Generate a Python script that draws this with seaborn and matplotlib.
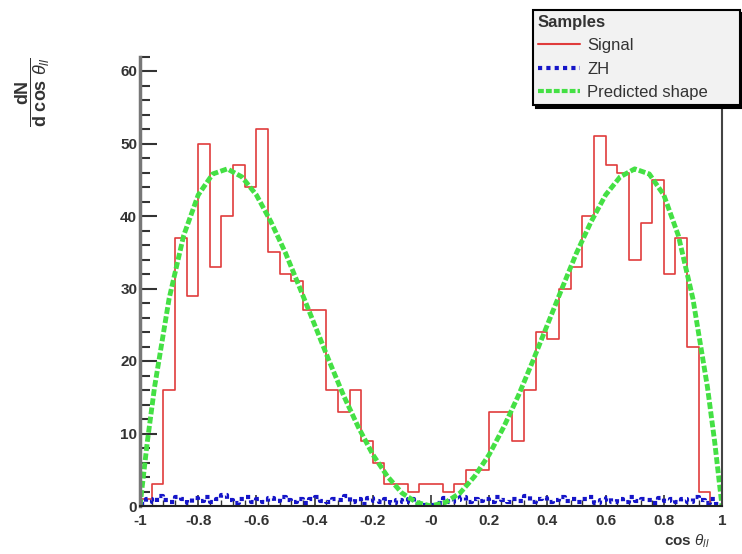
import numpy as np
import pandas as pd
import matplotlib
matplotlib.use("Agg")
import matplotlib.pyplot as plt
import seaborn as sns
from matplotlib.lines import Line2D
from matplotlib.ticker import MultipleLocator, FixedLocator, FixedFormatter

# Signal histogram: 50 bins over [-1, 1]
signal_nbins = 50
signal_counts = [1, 3, 16, 37, 29, 50, 33, 40, 47, 44,
                 52, 35, 32, 31, 27, 27, 16, 13, 16, 9,
                 6, 3, 3, 2, 3, 3, 2, 3, 5, 5,
                 13, 13, 9, 16, 24, 23, 30, 33, 40, 51,
                 47, 46, 34, 39, 45, 32, 37, 22, 2, 0]

# ZH background: 100 bins over [-1, 1]
zh_nbins = 100
zh_counts = [0.3, 1.0, 0.6, 1.4, 0.8, 0.5, 1.2, 0.9, 0.4, 1.1,
             0.7, 1.3, 0.6, 0.9, 1.5, 0.8, 0.4, 1.0, 1.2, 0.6,
             0.9, 0.5, 1.1, 0.7, 1.3, 0.8, 0.6, 1.0, 0.4, 0.9,
             1.2, 0.7, 0.5, 1.0, 0.8, 1.4, 0.6, 0.9, 0.3, 1.1,
             0.7, 0.5, 0.9, 0.4, 0.8, 0.6, 1.0, 0.3, 0.2, 0.1,
             0.2, 0.4, 1.1, 0.6, 0.8, 1.3, 0.5, 0.9, 0.7, 1.0,
             0.6, 1.2, 0.8, 0.5, 1.0, 0.7, 1.4, 0.6, 0.9, 1.1,
             0.5, 0.8, 1.2, 0.7, 1.0, 0.6, 0.9, 1.3, 0.4, 0.8,
             1.1, 0.6, 0.9, 0.5, 1.2, 0.7, 1.0, 0.8, 0.4, 1.1,
             0.7, 0.9, 0.5, 1.0, 0.6, 1.3, 0.8, 0.4, 1.0, 0.3]

# Predicted shape
pred_x = [-1.0, -0.975, -0.95, -0.9, -0.85, -0.8, -0.75, -0.7, -0.65, -0.6, -0.55,
          -0.5, -0.45, -0.4, -0.35, -0.3, -0.25, -0.2, -0.15, -0.1, -0.05,
          0.0, 0.05, 0.1, 0.15, 0.2, 0.25, 0.3, 0.35, 0.4, 0.45,
          0.5, 0.55, 0.6, 0.65, 0.7, 0.75, 0.8, 0.85, 0.9, 0.95, 0.975, 1.0]
pred_y = [0.0, 8.8, 16.4, 28.6, 37.3, 42.9, 45.8, 46.5, 45.4, 42.9, 39.2,
          34.9, 30.0, 25.0, 20.0, 15.2, 10.9, 7.1, 4.1, 1.8, 0.5,
          0.0, 0.5, 1.8, 4.1, 7.1, 10.9, 15.2, 20.0, 25.0, 30.0,
          34.9, 39.2, 42.9, 45.4, 46.5, 45.8, 42.9, 37.3, 28.6, 16.4, 8.8, 0.0]

x_ticks = [-1, -0.8, -0.6, -0.4, -0.2, 0, 0.2, 0.4, 0.6, 0.8, 1]
x_tick_labels = ['-1', '-0.8', '-0.6', '-0.4', '-0.2', '-0', '0.2', '0.4', '0.6', '0.8', '1']
y_ticks = [0, 10, 20, 30, 40, 50, 60]

sns.set_style("ticks")
plt.rcParams['font.family'] = ['Liberation Sans', 'DejaVu Sans']
plt.rcParams['mathtext.fontset'] = 'custom'
plt.rcParams['mathtext.rm'] = 'Liberation Sans'
plt.rcParams['mathtext.it'] = 'Liberation Sans:italic'
plt.rcParams['mathtext.bf'] = 'Liberation Sans:bold'

red = '#e03c3c'
blue = '#1515c8'
green = '#44e044'

fig = plt.figure(figsize=(7.42, 5.54), dpi=100)
ax = fig.add_axes([140 / 742, 1 - 506 / 554, (722 - 140) / 742, 449.5 / 554])

sig_df = pd.DataFrame({
    'x': -1 + (np.arange(signal_nbins) + 0.5) * 2 / signal_nbins,
    'w': signal_counts,
})
zh_df = pd.DataFrame({
    'x': -1 + (np.arange(zh_nbins) + 0.5) * 2 / zh_nbins,
    'w': zh_counts,
})

sns.histplot(data=sig_df, x='x', weights='w', binwidth=2 / signal_nbins, binrange=(-1, 1),
             element='step', fill=False, color=red, linewidth=1.2, ax=ax)
sns.histplot(data=zh_df, x='x', weights='w', binwidth=2 / zh_nbins, binrange=(-1, 1),
             element='step', fill=False, color=blue, linewidth=3, linestyle=(0, (1, 1)), ax=ax)
sns.lineplot(x=pred_x, y=pred_y, color=green, linewidth=3.5, linestyle=(0, (1.4, 0.5)),
             ax=ax, sort=False)

ax.set_xlim(-1, 1)
ax.set_ylim(0, 62)
ax.set_xlabel('')
ax.set_ylabel('')

ax.xaxis.set_major_locator(FixedLocator(x_ticks))
ax.xaxis.set_major_formatter(FixedFormatter(x_tick_labels))
ax.xaxis.set_minor_locator(MultipleLocator(0.04))
ax.yaxis.set_major_locator(FixedLocator(y_ticks))
ax.yaxis.set_minor_locator(MultipleLocator(2))

ax.tick_params(axis='both', which='both', direction='in', colors='#333333',
               labelsize=11)
ax.tick_params(axis='y', which='major', length=12, width=1.5, pad=2)
ax.tick_params(axis='y', which='minor', length=7, width=1.5)
ax.tick_params(axis='x', which='major', length=8, width=1.2, pad=6)
ax.tick_params(axis='x', which='minor', length=4, width=1)
for lab in ax.get_xticklabels() + ax.get_yticklabels():
    lab.set_fontweight('bold')

ax.spines['top'].set_visible(False)
ax.spines['left'].set_color('#777777')
ax.spines['left'].set_linewidth(2.5)
ax.spines['bottom'].set_color('#222222')
ax.spines['bottom'].set_linewidth(1.5)
ax.spines['right'].set_color('#444444')
ax.spines['right'].set_linewidth(1.5)

# axis titles
fig.text(33 / 742, 1 - 92 / 554, r'$\dfrac{\mathbf{dN}}{\mathbf{d\ cos\ }\theta_{ll}}$',
         rotation=90, ha='center', va='center', fontsize=13, color='#333333')
fig.text(710 / 742, 1 - 541 / 554, r'$\mathbf{cos}\ \theta_{ll}$', ha='right', va='center',
         fontsize=11, color='#333333')

handles = [Line2D([], [], color=red, linewidth=1.5),
           Line2D([], [], color=blue, linewidth=3, linestyle=(0, (1, 1))),
           Line2D([], [], color=green, linewidth=3, linestyle=(0, (1.4, 0.5)))]
labels = ['Signal', 'ZH', 'Predicted shape']
leg_x0, leg_x1 = 533 / 742, 740 / 742
leg = fig.legend(handles, labels, title='Samples', loc='upper left',
                 bbox_to_anchor=(leg_x0, 1 - 108 / 554, leg_x1 - leg_x0, 98 / 554),
                 mode='expand', borderaxespad=0,
                 fontsize=12, title_fontproperties={'weight': 'bold', 'size': 12},
                 alignment='left', fancybox=False, framealpha=1, handlelength=2.5,
                 handletextpad=0.45, labelspacing=0.5, borderpad=0.3,
                 shadow={'color': 'black', 'alpha': 1})
leg.get_frame().set_facecolor('#f2f2f2')
leg.get_frame().set_edgecolor('black')
leg.get_frame().set_linewidth(1.5)
for t in leg.get_texts():
    t.set_color('#333333')
leg.get_title().set_color('#333333')

fig.savefig('out.png', dpi=100)
